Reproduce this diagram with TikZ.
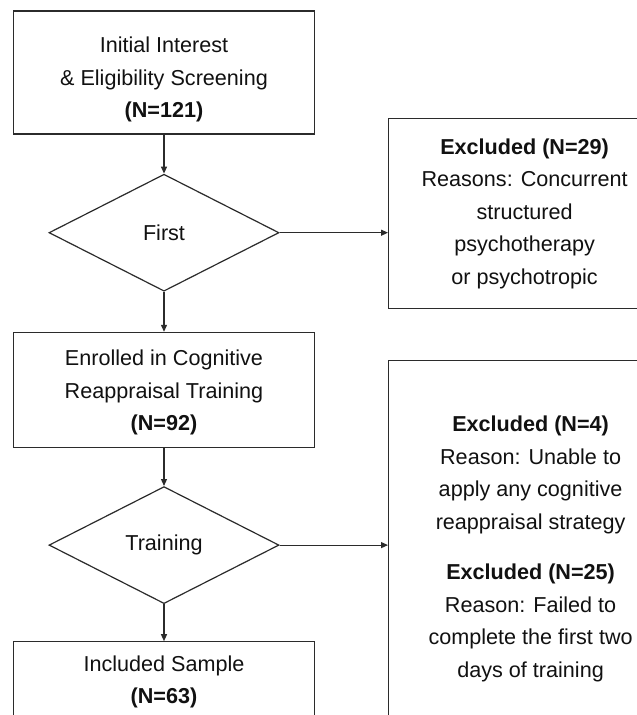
\documentclass[tikz,border=0pt]{standalone}
\usepackage{fontspec}
\setmainfont{Liberation Sans}
\usetikzlibrary{arrows.meta,positioning,shapes.geometric}
\usepackage{xcolor}
\definecolor{ink}{HTML}{111111}
\definecolor{edge}{HTML}{2B2B2B}
\newcommand{\padtop}[1]{\rule{0pt}{#1}}
\tikzset{
  base/.style={font=\fontsize{21.6}{32.5}\selectfont,align=center,draw=edge,line width=1.2pt,fill=white,text=ink,inner sep=0pt},
  stage/.style={base,minimum width=301pt},
  check/.style={base,diamond,minimum width=230pt,minimum height=117pt},
  excluded/.style={base,anchor=north west},
  flow/.style={-{Triangle[length=7pt,width=6pt]},line width=1.2pt,draw=edge}
}

\begin{document}
\begin{tikzpicture}[node distance=38pt]
\useasboundingbox (0,0) rectangle (637pt,-715pt);
\clip (0,0) rectangle (637pt,-715pt);

\node[stage,minimum height=123pt] (screen) at (164pt,-72.5pt) {\padtop{30pt}Initial Interest\\\& Eligibility Screening\\\textbf{(N=121)}};
\node[check,below=39pt of screen] (first) {First};
\node[stage,minimum height=115pt,below=40pt of first] (enrolled) {\padtop{21pt}Enrolled in Cognitive\\Reappraisal Training\\\textbf{(N=92)}};
\node[check,below=38pt of enrolled] (training) {Training};
\node[stage,minimum height=80pt,below=37pt of training] (sample) {Included Sample\\\textbf{(N=63)}};

\node[excluded,minimum width=272pt,minimum height=190pt] (excl1) at (388pt,-118pt) {\textbf{Excluded (N=29)}\\Reasons: Concurrent\\structured\\psychotherapy\\or psychotropic};
\node[excluded,minimum width=284pt,minimum height=362pt] (excl2) at (388pt,-360pt) {\padtop{30pt}\textbf{Excluded (N=4)}\\Reason: Unable to\\apply any cognitive\\reappraisal strategy\\[18pt]\textbf{Excluded (N=25)}\\Reason: Failed to\\complete the first two\\days of training};

\draw[flow] (screen) -- (first);
\draw[flow] (first) -- (enrolled);
\draw[flow] (enrolled) -- (training);
\draw[flow] (training) -- (sample);
\draw[flow] (first.east) -- (first.east -| excl1.west);
\draw[flow] (training.east) -- (training.east -| excl2.west);
\end{tikzpicture}
\end{document}
